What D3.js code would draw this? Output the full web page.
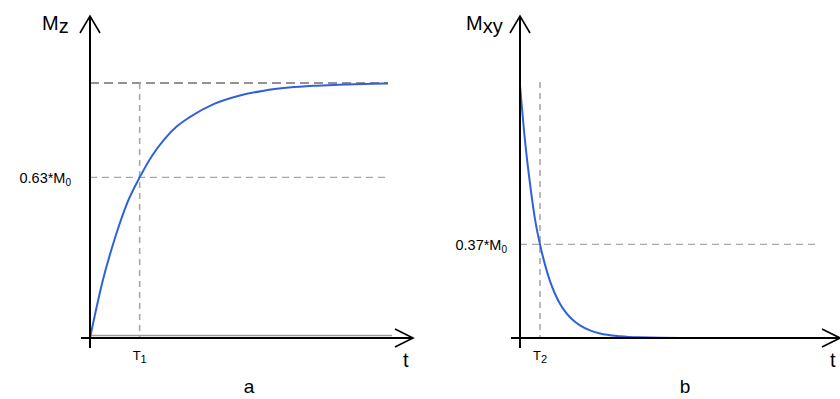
<!DOCTYPE html>
<html>
<head>
<meta charset="utf-8">
<style>
  body { margin: 0; background: #fff; }
  svg { display: block; font-family: Arial, 'Liberation Sans', sans-serif; }
</style>
</head>
<body>
<svg width="840" height="399"></svg>
<script src="https://cdnjs.cloudflare.com/ajax/libs/d3/7.8.5/d3.min.js"></script>
<script>
// panel a: longitudinal recovery, t in units of T1, value as fraction of M0
let tA = [0, 0.25, 0.5, 0.75, 1, 1.25, 1.5, 1.75, 2, 2.5, 3, 3.5, 4, 4.5, 5, 5.5, 6]
let mzA = [0, 0.22, 0.39, 0.53, 0.63, 0.715, 0.78, 0.83, 0.865, 0.918, 0.95, 0.97, 0.982, 0.989, 0.993, 0.996, 0.998]

// panel b: transverse decay, t in units of T2
let tB = [0, 0.25, 0.5, 0.75, 1, 1.25, 1.5, 1.75, 2, 2.25, 2.5, 2.75, 3, 3.5, 4, 5, 6, 8, 10, 15]
let mxyB = [1, 0.78, 0.61, 0.47, 0.37, 0.29, 0.225, 0.175, 0.135, 0.105, 0.082, 0.064, 0.05, 0.03, 0.018, 0.007, 0.0025, 0, 0, 0]

let svg = d3.select("svg")

function panel(opt) {
  let g = svg.append("g")
  let x = d3.scaleLinear().domain(opt.xDomain).range(opt.xRange)
  let y = d3.scaleLinear().domain([0, 1]).range(opt.yRange)
  let x0 = x(0), y0 = y(0)

  // reference dashed lines
  if (opt.topLine) {
    g.append("line")
      .attr("x1", x0).attr("x2", x(opt.xDomain[1]))
      .attr("y1", y(1)).attr("y2", y(1))
      .style("stroke", "#6f6f6f").style("stroke-width", 1.6)
      .style("stroke-dasharray", "9 5")
  }
  g.append("line")
    .attr("x1", x0).attr("x2", opt.hEnd)
    .attr("y1", y(opt.level)).attr("y2", y(opt.level))
    .style("stroke", "#a8a8a8").style("stroke-width", 1.4)
    .style("stroke-dasharray", "7 5")
  g.append("line")
    .attr("x1", x(1)).attr("x2", x(1))
    .attr("y1", opt.vTop).attr("y2", y0)
    .style("stroke", "#a8a8a8").style("stroke-width", 1.6)
    .style("stroke-dasharray", "6 5")

  if (opt.baseGray) {
    g.append("line")
      .attr("x1", x0).attr("x2", opt.baseGray)
      .attr("y1", y0 - 2.5).attr("y2", y0 - 2.5)
      .style("stroke", "#9a9a9a").style("stroke-width", 1.5)
  }

  // curve
  let line = d3.line()
    .x(d => x(d[0]))
    .y(d => y(d[1]))
    .curve(d3.curveMonotoneX)
  g.append("path")
    .datum(opt.t.map((t, i) => [t, opt.v[i]]))
    .attr("d", line)
    .style("fill", "none")
    .style("stroke", "#2f62da")
    .style("stroke-width", 2)

  // axes with arrows
  g.append("line")
    .attr("x1", x0).attr("x2", x0)
    .attr("y1", y0 + 10).attr("y2", 17)
    .style("stroke", "#000").style("stroke-width", 2)
  g.append("path")
    .attr("d", `M${x0 - 10},33L${x0},16L${x0 + 10},33`)
    .style("fill", "none").style("stroke", "#000").style("stroke-width", 1.6)
  g.append("line")
    .attr("x1", x0 - 9).attr("x2", opt.xEnd - 1)
    .attr("y1", y0).attr("y2", y0)
    .style("stroke", "#000").style("stroke-width", 2)
  g.append("path")
    .attr("d", `M${opt.xEnd - 18},${y0 - 9}L${opt.xEnd},${y0}L${opt.xEnd - 18},${y0 + 9}`)
    .style("fill", "none").style("stroke", "#000").style("stroke-width", 1.6)

  // texts
  let yl = g.append("text")
    .attr("x", opt.nameX).attr("y", 30)
    .style("font-size", "20px")
  yl.append("tspan").text("M")
  yl.append("tspan").attr("dy", 3).text(opt.sub)

  let lv = g.append("text")
    .attr("x", opt.levelX).attr("y", y(opt.level) + 5.5)
    .attr("text-anchor", "end")
    .style("font-size", "14.5px")
  lv.append("tspan").text(opt.levelText + "M")
  lv.append("tspan").attr("dy", 3).style("font-size", "10px").text("0")

  let tl = g.append("text")
    .attr("x", x(1) - 7).attr("y", y0 + 22)
    .style("font-size", "13px")
  tl.append("tspan").text("T")
  tl.append("tspan").attr("dy", 3).style("font-size", "11px").text(opt.tSub)

  g.append("text")
    .attr("x", opt.xEnd - 10).attr("y", y0 + 29)
    .style("font-size", "20px")
    .text("t")

  g.append("text")
    .attr("x", opt.labelX).attr("y", 393)
    .attr("text-anchor", "middle")
    .style("font-size", "19px")
    .text(opt.label)
}

panel({
  t: tA, v: mzA,
  xDomain: [0, 6], xRange: [90, 388], yRange: [338, 83],
  level: 0.63, levelText: "0.63*", levelX: 71, hEnd: 390, vTop: 83,
  topLine: true, baseGray: 392, nameX: 42,
  sub: "z", tSub: "1", xEnd: 413, label: "a", labelX: 249
})

panel({
  t: tB, v: mxyB,
  xDomain: [0, 15], xRange: [520, 820], yRange: [338, 85],
  level: 0.37, levelText: "0.37*", levelX: 507, hEnd: 820, vTop: 82,
  topLine: false, baseGray: null, nameX: 466,
  sub: "xy", tSub: "2", xEnd: 840, label: "b", labelX: 685
})
</script>
</body>
</html>
